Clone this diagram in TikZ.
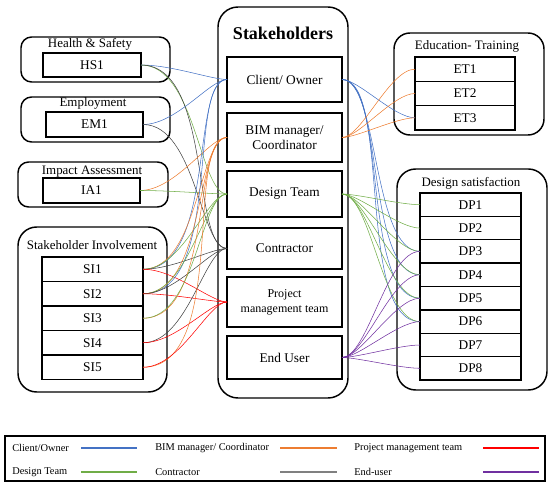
\documentclass[tikz,border=0pt]{standalone}
\usepackage{fontspec}
\setmainfont{Liberation Serif}
\definecolor{cBlue}{HTML}{4472C4}
\definecolor{cOrange}{HTML}{ED7D31}
\definecolor{cGreen}{HTML}{70AD47}
\definecolor{cGray}{HTML}{404040}
\definecolor{cRed}{HTML}{FF0000}
\definecolor{cPurple}{HTML}{7030A0}
\begin{document}
\begin{tikzpicture}[x=0.75pt,y=-0.75pt,
  outer/.style={draw, line width=1.1pt, inner sep=0pt, outer sep=0pt},
  cell/.style={draw, line width=1.1pt, fill=white, inner sep=0pt, outer sep=0pt, align=center, font=\fontsize{10}{11.5}\selectfont},
  ttl/.style={inner sep=0pt, font=\fontsize{9.7}{11}\selectfont},
  link/.style={line width=0.55pt, out=0, in=180},
  leftlink/.style={link, out looseness=0.9, in looseness=0.45},
  rightlink/.style={link, out looseness=0.5, in looseness=0.65},
  lb/.style={draw=cBlue},
  lo/.style={draw=cOrange},
  lg/.style={draw=cGreen},
  lk/.style={draw=cGray},
  lr/.style={draw=cRed},
  lp/.style={draw=cPurple},
  legtxt/.style={anchor=west, inner sep=0pt, font=\fontsize{7.8}{9}\selectfont},
  legline/.style={line width=0.8pt}
]
\useasboundingbox (0,0) rectangle (550,484);

% ---------- left groups ----------
\node[outer, rounded corners=8pt, minimum width=111.75pt, minimum height=33.75pt] (hsg) at (95.5,59.5) {};
\node[ttl] (hst) at (90,44) {Health \& Safety};
\node[cell, minimum width=73.5pt, minimum height=18pt] (HS1) at (92,65) {HS1};

\node[outer, rounded corners=8pt, minimum width=111.75pt, minimum height=33.75pt] (emg) at (95.5,119.5) {};
\node[ttl] (emt) at (93,103) {Employment};
\node[cell, minimum width=72.75pt, minimum height=18.75pt] (EM1) at (94.5,124.5) {EM1};

\node[outer, rounded corners=8pt, minimum width=112.5pt, minimum height=33.75pt] (iag) at (93,184.5) {};
\node[ttl] (iat) at (92,172) {Impact Assessment};
\node[cell, minimum width=72.75pt, minimum height=18.75pt] (IA1) at (91.5,190.5) {IA1};

\node[outer, rounded corners=14pt, minimum width=111.75pt, minimum height=123.75pt] (sig) at (92.5,309.5) {};
\node[ttl] (sit) at (92,245) {Stakeholder Involvement};
\foreach \i/\y in {1/269.25,2/293.75,3/318.25,4/342.75,5/367.25}
  \node[cell, minimum width=75.75pt, minimum height=18.375pt] (SI\i) at (92.5,\y) {SI\i};

% ---------- centre ----------
\node[outer, rounded corners=15pt, minimum width=97.5pt, minimum height=293.25pt] (stg) at (283,202.5) {};
\node[inner sep=0pt, font=\fontsize{13.5}{15}\selectfont\bfseries] (stt) at (283,33) {Stakeholders};
\node[cell, minimum width=86.25pt, minimum height=33.75pt] (client) at (284.5,79.5) {Client/ Owner};
\node[cell, minimum width=86.25pt, minimum height=36.75pt] (bim) at (284.5,137.5) {BIM manager/\\Coordinator};
\node[cell, minimum width=86.25pt, minimum height=34.5pt] (design) at (284.5,194) {Design Team};
\node[cell, minimum width=86.25pt, minimum height=30.75pt] (contr) at (284.5,248.5) {Contractor};
\node[cell, minimum width=86.25pt, minimum height=37.5pt, font=\fontsize{9}{11}\selectfont] (pm) at (284.5,302) {Project\\management team};
\node[cell, minimum width=86.25pt, minimum height=32.25pt] (enduser) at (284.5,357.5) {End User};

% ---------- right groups ----------
\node[outer, rounded corners=12pt, minimum width=112.5pt, minimum height=76.5pt] (etg) at (469,84) {};
\node[ttl] (ett) at (467,46) {Education- Training};
\foreach \i/\y in {1/69.2,2/93.5,3/117.8}
  \node[cell, minimum width=75pt, minimum height=18.25pt] (ET\i) at (465,\y) {ET\i};

\node[outer, rounded corners=14pt, minimum width=112.5pt, minimum height=165.75pt] (dsg) at (472,279.5) {};
\node[ttl] (dst) at (471,183) {Design satisfaction};
\foreach \i/\y in {1/204.7,2/228.1,3/251.4,4/274.8,5/298.2,6/321.6,7/345.0,8/368.3}
  \node[cell, minimum width=75.75pt, minimum height=17.53pt] (DP\i) at (470.5,\y) {DP\i};

% ---------- connectors, left ----------
\begin{scope}[every to/.append style={leftlink}]
\draw[lb] (HS1.east) to (client.west);
\draw[lg] (HS1.east) to (design.west);
\draw[lk] (HS1.east) to (contr.west);
\draw[lb] (EM1.east) to (client.west);
\draw[lk] (EM1.east) to (contr.west);
\draw[lo] (IA1.east) to (bim.west);
\draw[lg] (IA1.east) to (design.west);
\foreach \s in {SI1,SI2} {
  \draw[lb] (\s.east) to (client.west);
  \draw[lo] (\s.east) to (bim.west);
  \draw[lg] (\s.east) to (design.west);
  \draw[lk] (\s.east) to (contr.west);
  \draw[lr] (\s.east) to (pm.west);
}
\draw[lo] (SI3.east) to (bim.west);
\draw[lg] (SI3.east) to (design.west);
\draw[lk] (SI4.east) to (contr.west);
\draw[lr] (SI4.east) to (pm.west);
\draw[lo] (SI5.east) to (bim.west);
\draw[lr] (SI5.east) to (pm.west);
\end{scope}

% ---------- connectors, right ----------
\begin{scope}[every to/.append style={rightlink}]
\draw[lb] (client.east) to (ET3.west);
\foreach \d in {3,4,5,6} \draw[lb] (client.east) to (DP\d.west);
\foreach \e in {1,2,3} \draw[lo] (bim.east) to (ET\e.west);
\foreach \d in {1,...,6} \draw[lg] (design.east) to (DP\d.west);
\foreach \d in {3,...,8} \draw[lp] (enduser.east) to (DP\d.west);
\end{scope}

% ---------- legend ----------
\node[draw, line width=0.8pt, inner sep=0pt, minimum width=405pt, minimum height=33.75pt] (leg) at (275,458.5) {};
\node[legtxt] (t1) at (12,448) {Client/Owner};
\node[legtxt] (t2) at (155,448) {BIM manager/ Coordinator};
\node[legtxt] (t3) at (354,448) {Project management team};
\node[legtxt] (t4) at (12,472) {Design Team};
\node[legtxt] (t5) at (155,472) {Contractor};
\node[legtxt] (t6) at (354,472) {End-user};
\coordinate (a1) at (81,448);  \coordinate (b1) at (137,448);
\coordinate (a2) at (280,448); \coordinate (b2) at (337,448);
\coordinate (a3) at (483,448); \coordinate (b3) at (539,448);
\coordinate (a4) at (81,472);  \coordinate (b4) at (137,472);
\coordinate (a5) at (280,472); \coordinate (b5) at (337,472);
\coordinate (a6) at (483,472); \coordinate (b6) at (539,472);
\draw[legline, cBlue] (a1) -- (b1);
\draw[legline, cOrange] (a2) -- (b2);
\draw[legline, cRed] (a3) -- (b3);
\draw[legline, cGreen] (a4) -- (b4);
\draw[legline, gray] (a5) -- (b5);
\draw[legline, cPurple] (a6) -- (b6);
\end{tikzpicture}
\end{document}
